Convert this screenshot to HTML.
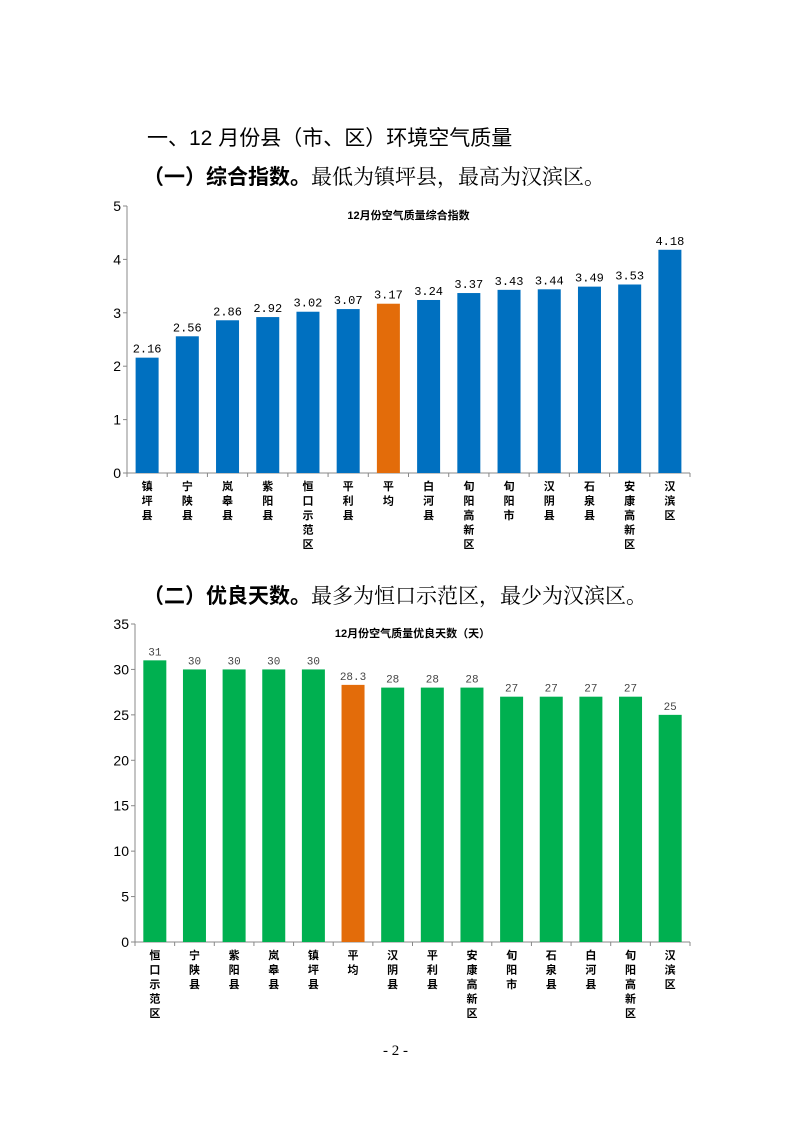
<!DOCTYPE html>
<html><head><meta charset="utf-8"><style>
body{margin:0;background:#fff;}
#page{position:relative;width:794px;height:1123px;overflow:hidden;font-family:"Liberation Serif","Noto Serif CJK SC",serif;}
.h{position:absolute;left:0;white-space:nowrap;color:#000;}
</style></head><body>
<div id="page">
<div class="h" style="left:147px;top:122px;font-size:21px;font-family:'Liberation Sans','Noto Sans CJK SC',sans-serif;">一、12 月份县（市、区）环境空气质量</div>
<div class="h" style="left:143px;top:161px;font-size:21px;"><b style="font-family:'Liberation Sans','Noto Sans CJK SC',sans-serif">（一）综合指数。</b>最低为镇坪县，最高为汉滨区。</div>
<div class="h" style="left:143px;top:580px;font-size:21px;"><b style="font-family:'Liberation Sans','Noto Sans CJK SC',sans-serif">（二）优良天数。</b>最多为恒口示范区，最少为汉滨区。</div>
<svg id="c1" width="794" height="1123" style="position:absolute;left:0;top:0"></svg>
<div class="h" style="left:383px;top:1043px;font-size:15px;">- 2 -</div>
</div>
<script>
const cats1=["镇坪县","宁陕县","岚皋县","紫阳县","恒口示范区","平利县","平均","白河县","旬阳高新区","旬阳市","汉阴县","石泉县","安康高新区","汉滨区"];
const vals1=[2.16,2.56,2.86,2.92,3.02,3.07,3.17,3.24,3.37,3.43,3.44,3.49,3.53,4.18];
const labels1=["2.16","2.56","2.86","2.92","3.02","3.07","3.17","3.24","3.37","3.43","3.44","3.49","3.53","4.18"];
const ticks1=[0,1,2,3,4,5];
const cats2=["恒口示范区","宁陕县","紫阳县","岚皋县","镇坪县","平均","汉阴县","平利县","安康高新区","旬阳市","石泉县","白河县","旬阳高新区","汉滨区"];
const vals2=[31,30,30,30,30,28.3,28,28,28,27,27,27,27,25];
const labels2=["31","30","30","30","30","28.3","28","28","28","27","27","27","27","25"];
const ticks2=[0,5,10,15,20,25,30,35];
const svg=document.getElementById('c1');
const NS="http://www.w3.org/2000/svg";
function mk(t,a,txt){const e=document.createElementNS(NS,t);for(const k in a)e.setAttribute(k,a[k]);if(txt!==undefined)e.textContent=txt;svg.appendChild(e);return e;}
function chart(o){
  const y=v=>o.y0-(v-o.min)/(o.max-o.min)*(o.y0-o.y1);
  const step=(o.xEnd-o.x0)/o.cats.length;
  const xc=i=>o.x0+step*(i+0.5);
  let e=mk('text',{x:(o.x0+o.xEnd)/2,y:o.y1+13,'text-anchor':'middle','font-size':11,'font-weight':'bold','font-family':'Liberation Sans,Noto Sans CJK SC,sans-serif'},o.title);
  
  e=mk('line',{x1:o.x0,y1:o.y1,x2:o.x0,y2:o.y0,stroke:'#888'});
  
  e=mk('line',{x1:o.x0,y1:o.y0,x2:o.xEnd,y2:o.y0,stroke:'#888'});
  
  o.ticks.forEach(t=>{
    mk('line',{x1:o.x0-4,y1:y(t),x2:o.x0,y2:y(t),stroke:'#888'});
    e=mk('text',{x:o.x0-6,y:y(t)+5,'text-anchor':'end','font-size':14,'font-family':'Liberation Sans,sans-serif'},t);
    
  });
  for(let i=0;i<=o.cats.length;i++)mk('line',{x1:o.x0+step*i,y1:o.y0,x2:o.x0+step*i,y2:o.y0+4,stroke:'#888'});
  o.cats.forEach((c,i)=>{
    const col=c==='平均'?'#e36c0a':o.color;
    e=mk('rect',{x:xc(i)-11.5,y:y(o.vals[i]),width:23,height:o.y0-y(o.vals[i]),fill:col});
    
    e=mk('text',{x:xc(i),y:y(o.vals[i])-5,'text-anchor':'middle','font-size':o.lfs,fill:o.lcol,'font-family':'Liberation Mono,monospace'},o.labels[i]);
    
    [...c].forEach((ch,j)=>{
      e=mk('text',{x:xc(i),y:o.y0+17+j*14.5,'text-anchor':'middle','font-size':11,'font-weight':'bold','font-family':'Liberation Sans,Noto Sans CJK SC,sans-serif'},ch);
      
    });
  });
}
chart({name:'composite',title:'12月份空气质量综合指数',cats:cats1,vals:vals1,labels:labels1,ticks:ticks1,min:0,max:5,x0:127,xEnd:690,y0:473,y1:206,color:'#0070c0',lfs:12,lcol:'#000'});
chart({name:'good-days',title:'12月份空气质量优良天数（天）',cats:cats2,vals:vals2,labels:labels2,ticks:ticks2,min:0,max:35,x0:135,xEnd:690,y0:942,y1:624,color:'#00b050',lfs:11,lcol:'#444'});
</script>
</body></html>
